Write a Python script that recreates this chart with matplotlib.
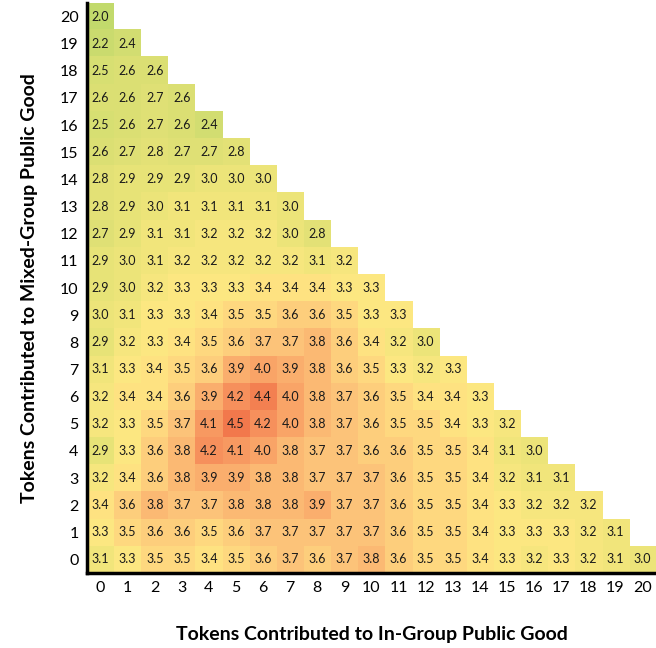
import matplotlib
matplotlib.use("Agg")
import matplotlib.pyplot as plt
import numpy as np
from matplotlib.colors import LinearSegmentedColormap

# rows: tokens to mixed-group good (0..20), each row starts at in-group = 0
rows = {
    20: [2.0],
    19: [2.2, 2.4],
    18: [2.5, 2.6, 2.6],
    17: [2.6, 2.6, 2.7, 2.6],
    16: [2.5, 2.6, 2.7, 2.6, 2.4],
    15: [2.6, 2.7, 2.8, 2.7, 2.7, 2.8],
    14: [2.8, 2.9, 2.9, 2.9, 3.0, 3.0, 3.0],
    13: [2.8, 2.9, 3.0, 3.1, 3.1, 3.1, 3.1, 3.0],
    12: [2.7, 2.9, 3.1, 3.1, 3.2, 3.2, 3.2, 3.0, 2.8],
    11: [2.9, 3.0, 3.1, 3.2, 3.2, 3.2, 3.2, 3.2, 3.1, 3.2],
    10: [2.9, 3.0, 3.2, 3.3, 3.3, 3.3, 3.4, 3.4, 3.4, 3.3, 3.3],
    9: [3.0, 3.1, 3.3, 3.3, 3.4, 3.5, 3.5, 3.6, 3.6, 3.5, 3.3, 3.3],
    8: [2.9, 3.2, 3.3, 3.4, 3.5, 3.6, 3.7, 3.7, 3.8, 3.6, 3.4, 3.2, 3.0],
    7: [3.1, 3.3, 3.4, 3.5, 3.6, 3.9, 4.0, 3.9, 3.8, 3.6, 3.5, 3.3, 3.2, 3.3],
    6: [3.2, 3.4, 3.4, 3.6, 3.9, 4.2, 4.4, 4.0, 3.8, 3.7, 3.6, 3.5, 3.4, 3.4, 3.3],
    5: [3.2, 3.3, 3.5, 3.7, 4.1, 4.5, 4.2, 4.0, 3.8, 3.7, 3.6, 3.5, 3.5, 3.4, 3.3, 3.2],
    4: [2.9, 3.3, 3.6, 3.8, 4.2, 4.1, 4.0, 3.8, 3.7, 3.7, 3.6, 3.6, 3.5, 3.5, 3.4, 3.1, 3.0],
    3: [3.2, 3.4, 3.6, 3.8, 3.9, 3.9, 3.8, 3.8, 3.7, 3.7, 3.7, 3.6, 3.5, 3.5, 3.4, 3.2, 3.1, 3.1],
    2: [3.4, 3.6, 3.8, 3.7, 3.7, 3.8, 3.8, 3.8, 3.9, 3.7, 3.7, 3.6, 3.5, 3.5, 3.4, 3.3, 3.2, 3.2, 3.2],
    1: [3.3, 3.5, 3.6, 3.6, 3.5, 3.6, 3.7, 3.7, 3.7, 3.7, 3.7, 3.6, 3.5, 3.5, 3.4, 3.3, 3.3, 3.3, 3.2, 3.1],
    0: [3.1, 3.3, 3.5, 3.5, 3.4, 3.5, 3.6, 3.7, 3.6, 3.7, 3.8, 3.6, 3.5, 3.5, 3.4, 3.3, 3.2, 3.3, 3.2, 3.1, 3.0],
}
ticks = list(range(21))

grid = np.full((21, 21), np.nan)
for y, vals in rows.items():
    grid[y, :len(vals)] = vals
data = np.ma.masked_invalid(grid)

# excel-like green / yellow / red scale, a bit washed out
vmin, vmax = 2.0, 4.5
nodes = [(2.0, "#c2da6c"), (3.0, "#ece479"), (3.35, "#ffe883"),
         (3.7, "#fdc47a"), (4.1, "#f89a62"), (4.5, "#f2784c")]
cmap = LinearSegmentedColormap.from_list(
    "xl", [((v - vmin) / (vmax - vmin), c) for v, c in nodes])
cmap.set_bad("white")

plt.rcParams['font.family'] = ['Lato', 'DejaVu Sans']

fig = plt.figure(figsize=(6.56, 6.48), dpi=100)
ax = fig.add_axes([0.1326, 0.1157, 0.8674, 0.8797])

ax.imshow(data, cmap=cmap, vmin=vmin, vmax=vmax, origin="lower",
          interpolation="nearest", extent=(-0.5, 20.5, -0.5, 20.5), aspect="auto")

for y, vals in rows.items():
    for x, v in enumerate(vals):
        ax.text(x, y, f"{v:.1f}", ha="center", va="center", fontsize=9, color="#1a1a1a")

ax.set_xlim(-0.5, 20.5)
ax.set_ylim(-0.5, 20.5)
ax.set_xticks(ticks)
ax.set_yticks(ticks)
ax.set_xticklabels([str(t) for t in ticks], fontsize=11.5)
ax.set_yticklabels([str(t) for t in ticks], fontsize=11.5)
ax.tick_params(length=0, pad=6)

for s in ["top", "right"]:
    ax.spines[s].set_visible(False)
for s in ["left", "bottom"]:
    ax.spines[s].set_linewidth(2.5)

ax.set_xlabel("Tokens Contributed to In-Group Public Good", fontsize=14,
              fontweight="bold", labelpad=22)
ax.set_ylabel("Tokens Contributed to Mixed-Group Public Good", fontsize=14,
              fontweight="bold", labelpad=16)

fig.savefig("out.png", dpi=100)
